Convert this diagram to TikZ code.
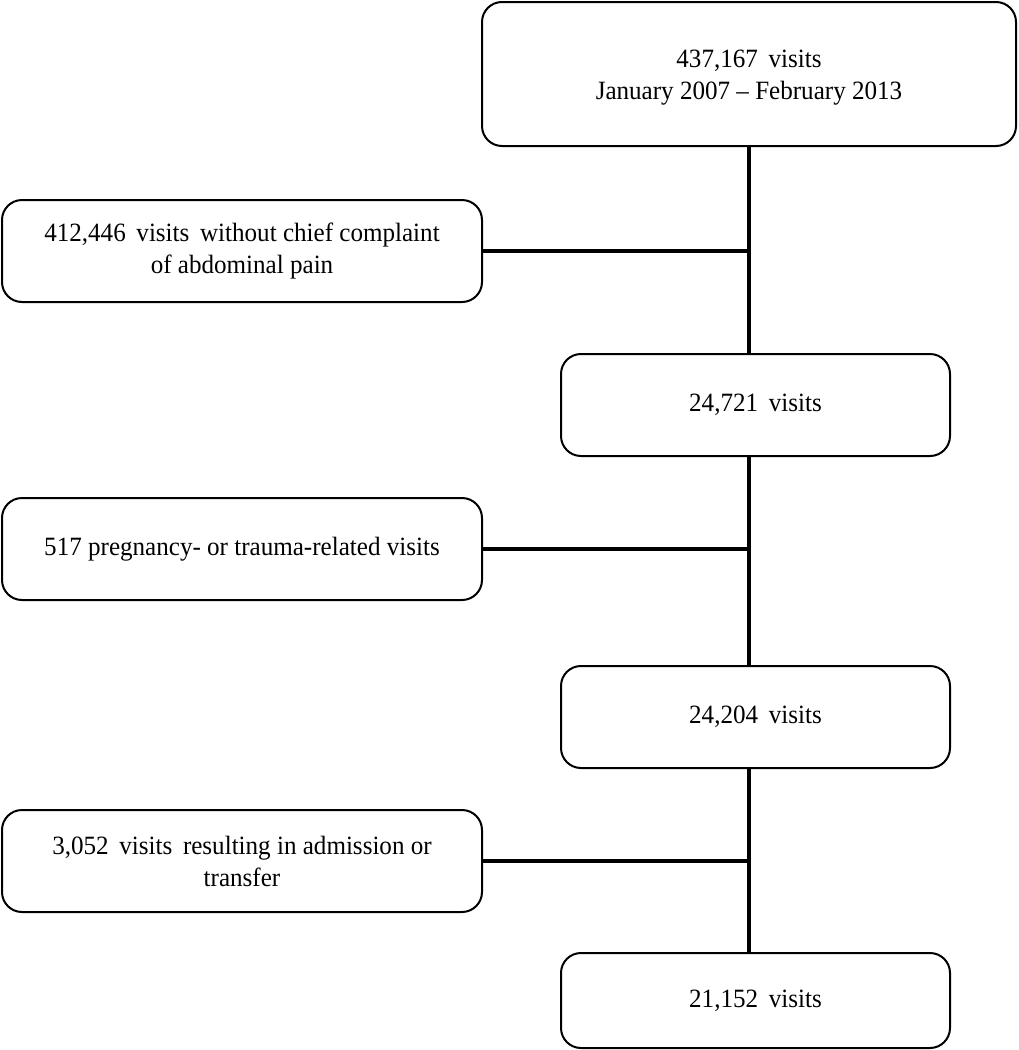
\documentclass[tikz,border=0pt]{standalone}
\usepackage{fontspec}
\setmainfont[FakeStretch=0.95]{Liberation Serif}
\usetikzlibrary{positioning}
\tikzset{
  every node/.style={font=\fontsize{13.2}{16}\selectfont,text=black},
  stage/.style={draw=black,line width=1pt,rounded corners=10pt,fill=white,align=center,inner sep=0},
  excl/.style={stage,minimum width=240pt,minimum height=51pt},
  kept/.style={stage,minimum width=194.5pt,minimum height=51pt},
  link/.style={line width=2.2pt,draw=black}
}
\begin{document}
\begin{tikzpicture}[x=0.5pt,y=-0.5pt]
  \path[use as bounding box] (0,0) rectangle (1018,1050);

  \node[stage,minimum width=267pt,minimum height=72pt] (all) at (749,74) {\\[-4pt]437,167\, visits\\January 2007 -- February 2013};
  \node[excl] (noabd) at (242,251) {412,446\, visits\, without chief complaint\\of abdominal pain};
  \node[kept] (abd) at (755.5,405) {24,721\, visits};
  \node[excl] (preg) at (242,549) {517 pregnancy- or trauma-related visits};
  \node[kept] (nopreg) at (755.5,717) {24,204\, visits};
  \node[excl] (adm) at (242,861) {3,052\, visits\, resulting in admission or\\transfer};
  \node[kept,minimum height=47.5pt] (final) at (755.5,1000.5) {21,152\, visits};

  % trunk
  \draw[link] (all.south) -- (all.south |- abd.north);
  \draw[link] (all.south |- abd.south) -- (all.south |- nopreg.north);
  \draw[link] (all.south |- nopreg.south) -- (all.south |- final.north);
  % exclusions
  \foreach \b in {noabd,preg,adm} {\draw[link] (\b.east) -- (\b.east -| all.south);}
\end{tikzpicture}
\end{document}
